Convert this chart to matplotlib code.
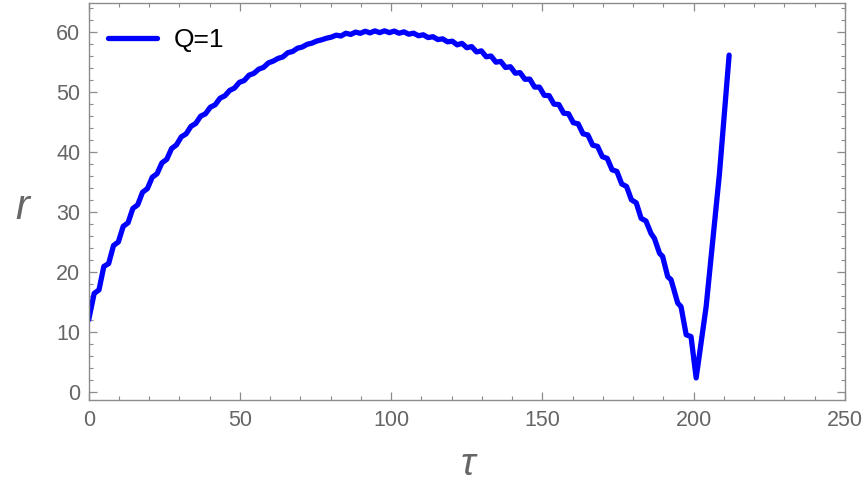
import matplotlib
matplotlib.use("Agg")
import matplotlib.pyplot as plt
from matplotlib.ticker import MultipleLocator

# ---- data ----
tau = [0.0, 1.8, 3.4, 5.0, 6.6, 8.2, 9.8, 11.4, 13.0, 14.6, 16.2, 17.8, 19.4,
       21.0, 22.6, 24.2, 25.8, 27.4, 29.0, 30.6, 32.2, 33.8, 35.4, 37.0, 38.6,
       40.2, 41.8, 43.4, 45.0, 46.6, 48.2, 49.8, 51.4, 53.0, 54.6, 56.2, 57.8,
       59.4, 61.0, 62.6, 64.2, 65.8, 67.4, 69.0, 70.6, 72.2, 73.8, 75.4, 77.0,
       78.6, 80.2, 81.8, 83.4, 85.0, 86.6, 88.2, 89.8, 91.4, 93.0, 94.6, 96.2,
       97.8, 99.4, 101.0, 102.6, 104.2, 105.8, 107.4, 109.0, 110.6, 112.2,
       113.8, 115.4, 117.0, 118.6, 120.2, 121.8, 123.4, 125.0, 126.6, 128.2,
       129.8, 131.4, 133.0, 134.6, 136.2, 137.8, 139.4, 141.0, 142.6, 144.2,
       145.8, 147.4, 149.0, 150.6, 152.2, 153.8, 155.4, 157.0, 158.6, 160.2,
       161.8, 163.4, 165.0, 166.6, 168.2, 169.8, 171.4, 173.0, 174.6, 176.2,
       177.8, 179.4, 181.0, 182.6, 184.2, 185.9, 187.0, 188.7, 189.7, 191.4,
       192.5, 194.7, 195.8, 197.5, 199.1, 200.8, 204.1, 208.5, 211.7]
r = [12.0, 16.4, 17.0, 20.9, 21.4, 24.4, 25.0, 27.6, 28.2, 30.6, 31.2, 33.3, 33.9,
     35.8, 36.4, 38.2, 38.8, 40.6, 41.2, 42.55, 43.05, 44.3, 44.8, 46.0, 46.4,
     47.5, 47.9, 49.0, 49.4, 50.3, 50.7, 51.65, 51.95, 52.85, 53.15, 53.85, 54.15,
     54.9, 55.2, 55.65, 55.9, 56.6, 56.8, 57.35, 57.55, 58.0, 58.2, 58.55, 58.75,
     59.02, 59.2, 59.53, 59.39, 59.85, 59.65, 60.04, 59.84, 60.18, 59.91, 60.24, 59.95,
     60.25, 59.95, 60.21, 59.85, 60.08, 59.69, 59.86, 59.43, 59.59, 59.13,
     59.27, 58.80, 58.91, 58.42, 58.52, 57.91, 58.16, 57.43, 57.62, 56.73,
     56.91, 55.92, 56.05, 55.02, 55.15, 54.13, 54.26, 53.18, 53.27, 52.16,
     52.19, 50.86, 50.85, 49.48, 49.43, 48.01, 47.95, 46.50, 46.41, 44.91,
     44.73, 43.06, 42.87, 41.16, 40.96, 39.24, 38.95, 37.06, 36.77, 34.69,
     34.25, 32.04, 31.53, 28.95, 28.5, 26.4, 25.6, 23.1, 22.6, 19.2,
     18.7, 14.8, 14.2, 9.5, 9.2, 2.3, 14.2, 36.4, 56.2]
series_label = "Q=1"
x_ticks = [0, 50, 100, 150, 200, 250]
y_ticks = [0, 10, 20, 30, 40, 50, 60]

W, H = 864, 487
fig = plt.figure(figsize=(W / 100, H / 100), dpi=100)
L, R, T, B = 88.7, 845.0, 3.0, 400.0
ax = fig.add_axes([L / W, 1 - B / H, (R - L) / W, (B - T) / H])

gray = "#666666"
framec = "#8c8c8c"
font = "Liberation Sans"

ax.plot(tau, r, color=(0, 0, 1), lw=3.8, solid_joinstyle="round",
        solid_capstyle="round", label=series_label)

ax.set_xlim(0, 250)
ax.set_ylim(-1.39, 64.9)
ax.set_xticks(x_ticks)
ax.set_yticks(y_ticks)
ax.xaxis.set_minor_locator(MultipleLocator(10))
ax.yaxis.set_minor_locator(MultipleLocator(2))
for s in ax.spines.values():
    s.set_color(framec)
    s.set_linewidth(1.0)
ax.tick_params(which="both", direction="in", top=True, right=True,
               color=framec, labelcolor=gray, labelsize=15.5)
ax.tick_params(which="major", length=5.8, width=0.9)
ax.tick_params(which="minor", length=3.2, width=0.8)
ax.tick_params(axis="x", pad=7)
ax.tick_params(axis="y", pad=6)
for lab in ax.get_xticklabels() + ax.get_yticklabels():
    lab.set_fontfamily(font)

fig.text(22 / W, 1 - 208 / H, "r", family=font, style="italic",
         fontsize=30, color=gray, ha="center", va="center")
fig.text(468 / W, 1 - 465 / H, "τ", family=font, style="italic",
         fontsize=28, color=gray, ha="center", va="center")

leg = ax.legend(loc="center left",
                bbox_to_anchor=((108 - L) / (R - L), 1 - (40 - T) / (B - T)),
                frameon=False, borderpad=0, borderaxespad=0,
                handlelength=1.85, handletextpad=0.65,
                prop={"family": font, "size": 19})

fig.savefig("out.png", dpi=100)
